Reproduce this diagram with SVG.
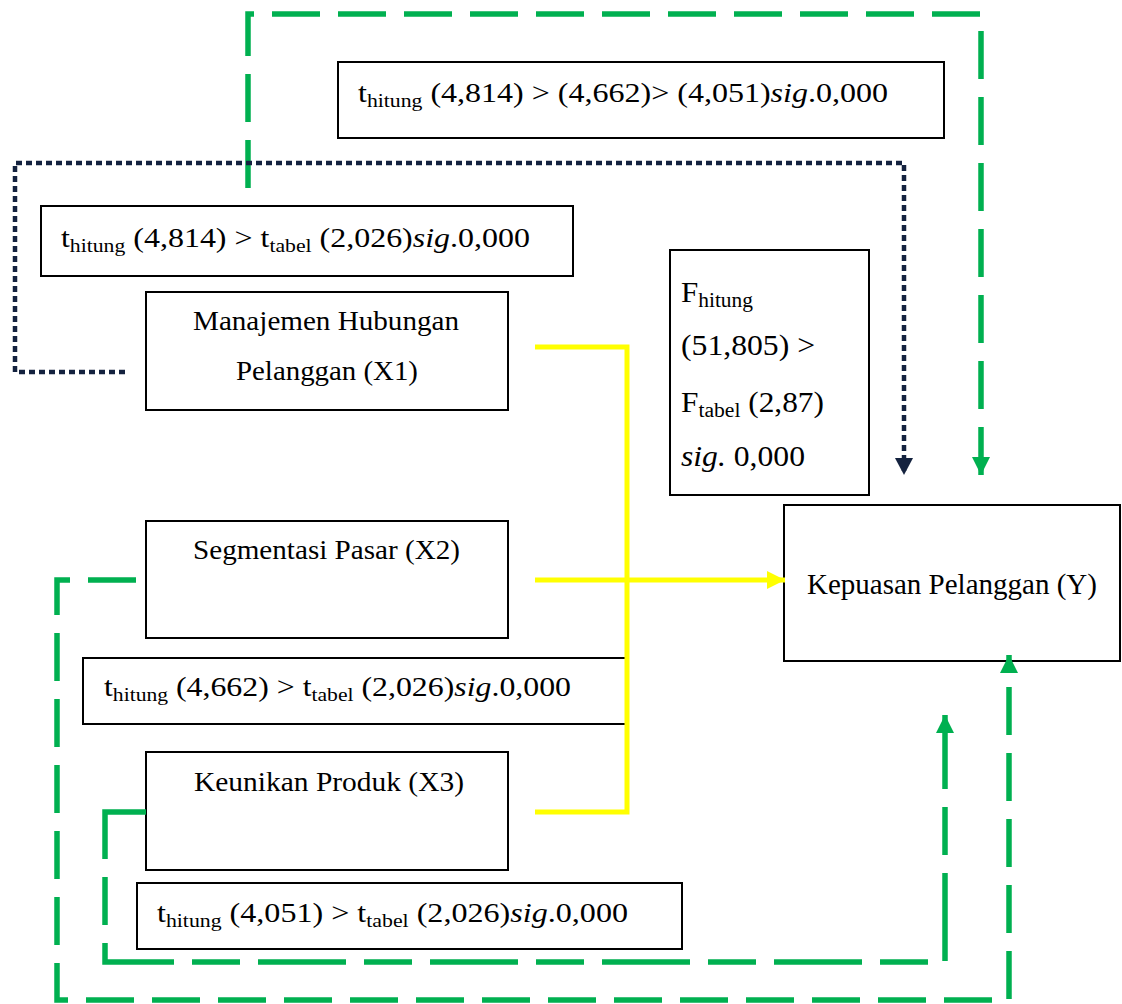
<svg xmlns="http://www.w3.org/2000/svg" width="1122" height="1004" viewBox="0 0 1122 1004">
<style>
.box{fill:#fff;stroke:#000;stroke-width:2}
.t{font-family:"Liberation Serif","Times New Roman",serif;fill:#000}
.m{font-size:28px}
.s{font-size:19px}
.big{font-size:29px}
.bs{font-size:20px}
.g{fill:none;stroke:#00B050;stroke-width:5.5;stroke-dasharray:48 18}
.y{fill:none;stroke:#FFFF00;stroke-width:5}
.d{fill:none;stroke:#14223F;stroke-width:4.5;stroke-dasharray:6 4}
</style>
<defs>
<marker id="ag" markerUnits="userSpaceOnUse" markerWidth="20" markerHeight="20" refX="18" refY="9" orient="auto"><path d="M0,0 L18,9 L0,18 Z" fill="#00B050"/></marker>
<marker id="ay" markerUnits="userSpaceOnUse" markerWidth="20" markerHeight="20" refX="18" refY="9" orient="auto"><path d="M0,0 L18,9 L0,18 Z" fill="#FFFF00"/></marker>
<marker id="ad" markerUnits="userSpaceOnUse" markerWidth="20" markerHeight="20" refX="17" refY="9" orient="auto"><path d="M0,0 L17,9 L0,18 Z" fill="#14223F"/></marker>
</defs>

<g id="node-t-all">
<rect class="box" x="338" y="62" width="606" height="76"/>
<text class="t m" x="358" y="102" textLength="530" lengthAdjust="spacingAndGlyphs">t<tspan class="s" dy="5">hitung</tspan><tspan dy="-5"> (4,814) &gt; (4,662)&gt; (4,051)</tspan><tspan font-style="italic">sig</tspan>.0,000</text>
</g>

<g id="node-t1">
<rect class="box" x="41" y="206" width="532" height="70"/>
<text class="t m" x="61" y="247" textLength="469" lengthAdjust="spacingAndGlyphs">t<tspan class="s" dy="5">hitung</tspan><tspan dy="-5"> (4,814) &gt; t</tspan><tspan class="s" dy="5">tabel</tspan><tspan dy="-5"> (2,026)</tspan><tspan font-style="italic">sig</tspan>.0,000</text>
</g>

<g id="node-x1">
<rect class="box" x="146" y="292" width="362" height="118"/>
<text class="t m" x="193" y="330" textLength="266" lengthAdjust="spacingAndGlyphs">Manajemen Hubungan</text>
<text class="t m" x="236" y="380" textLength="182" lengthAdjust="spacingAndGlyphs">Pelanggan (X1)</text>
</g>

<g id="node-f">
<rect class="box" x="670" y="250" width="199" height="245"/>
<text class="t big" x="681" y="302" textLength="72" lengthAdjust="spacingAndGlyphs">F<tspan class="bs" dy="5">hitung</tspan></text>
<text class="t big" x="681" y="355" textLength="134" lengthAdjust="spacingAndGlyphs">(51,805) &gt;</text>
<text class="t big" x="681" y="412" textLength="143" lengthAdjust="spacingAndGlyphs">F<tspan class="bs" dy="5">tabel</tspan><tspan dy="-5"> (2,87)</tspan></text>
<text class="t big" x="681" y="466" textLength="124" lengthAdjust="spacingAndGlyphs"><tspan font-style="italic">sig.</tspan> 0,000</text>
</g>

<g id="node-y">
<rect class="box" x="784" y="505" width="336" height="156"/>
<text class="t big" x="807" y="594">Kepuasan Pelanggan (Y)</text>
</g>

<g id="node-x2">
<rect class="box" x="146" y="521" width="362" height="117"/>
<text class="t m" x="193" y="559" textLength="267" lengthAdjust="spacingAndGlyphs">Segmentasi Pasar (X2)</text>
</g>

<g id="node-t2">
<rect class="box" x="83" y="658" width="544" height="66"/>
<text class="t m" x="104" y="696" textLength="467" lengthAdjust="spacingAndGlyphs">t<tspan class="s" dy="5">hitung</tspan><tspan dy="-5"> (4,662) &gt; t</tspan><tspan class="s" dy="5">tabel</tspan><tspan dy="-5"> (2,026)</tspan><tspan font-style="italic">sig</tspan>.0,000</text>
</g>

<g id="node-x3">
<rect class="box" x="146" y="752" width="362" height="118"/>
<text class="t m" x="194" y="791" textLength="270" lengthAdjust="spacingAndGlyphs">Keunikan Produk (X3)</text>
</g>

<g id="node-t3">
<rect class="box" x="137" y="883" width="545" height="66"/>
<text class="t m" x="157" y="922" textLength="471" lengthAdjust="spacingAndGlyphs">t<tspan class="s" dy="5">hitung</tspan><tspan dy="-5"> (4,051) &gt; t</tspan><tspan class="s" dy="5">tabel</tspan><tspan dy="-5"> (2,026)</tspan><tspan font-style="italic">sig</tspan>.0,000</text>
</g>

<g id="connectors">
<path class="g" d="M248,188 V14 H981 V475" marker-end="url(#ag)"/>
<path class="d" d="M125,372 H15 V163 H904 V475" marker-end="url(#ad)"/>
<path class="y" d="M535,347 H627 V812 H535"/>
<path class="y" d="M535,580 H785" marker-end="url(#ay)"/>
<path class="g" d="M136,580 H57 V1000 H1009 V655" marker-end="url(#ag)"/>
<path class="g" style="stroke-dasharray:88 18 48 18" d="M146,812 H105 V962 H945 V715" marker-end="url(#ag)"/>
</g>
</svg>
